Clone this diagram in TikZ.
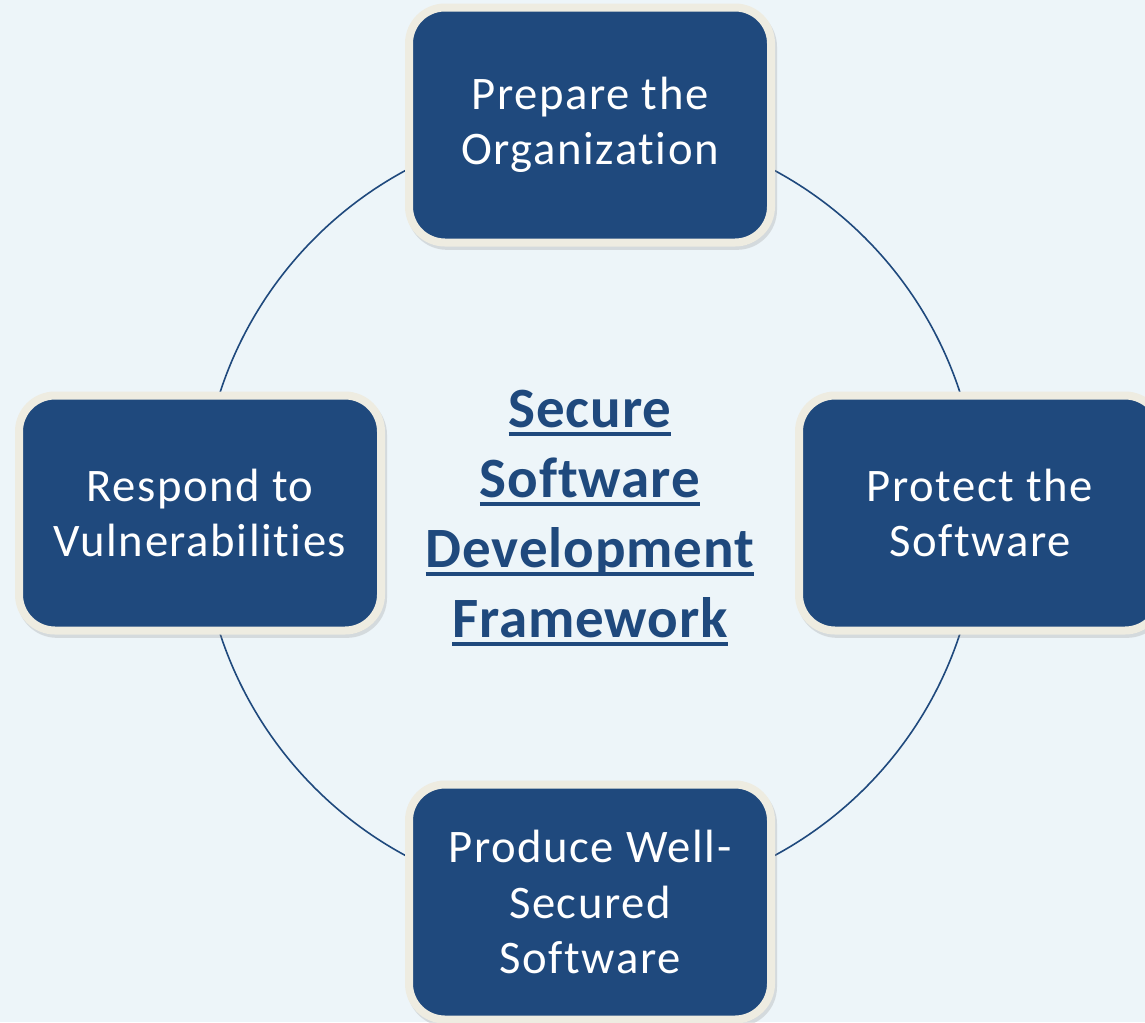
\documentclass[tikz,border=0pt]{standalone}
\usepackage{fontspec}
\setmainfont{Carlito}[Ligatures=NoCommon]
\newfontfamily\phasefont{Carlito}[Ligatures=NoCommon, LetterSpace=3.4]
\newfontfamily\titlefont{Carlito}[Ligatures=NoCommon, LetterSpace=1.6]
\usetikzlibrary{shadows}

\definecolor{pagebg}{HTML}{EDF5F9}
\definecolor{boxblue}{HTML}{1F497D}
\definecolor{rimcream}{HTML}{EEECE1}

% underline at a fixed distance below the baseline
\newcommand\ulword[1]{\leavevmode\setbox0\hbox{#1}\rlap{\rule[-6.6pt]{\wd0}{3pt}}\box0}

\begin{document}
\begin{tikzpicture}[x=0.75pt, y=-0.75pt,
  phase/.style={rounded corners=27pt, fill=boxblue, draw=rimcream, line width=6pt,
    minimum width=271.5pt, minimum height=176.25pt, inner sep=0pt,
    text=white, align=center, font=\phasefont\fontsize{35}{41.5}\selectfont,
    general shadow={fill=black!45, draw=black!45, line width=6pt, opacity=.25,
      shadow xshift=1.5pt, shadow yshift=-2.5pt}},
  ring/.style={draw=boxblue, line width=1.2pt},
  title/.style={text=boxblue, align=center, font=\titlefont\fontsize{42.75}{52.5}\selectfont\bfseries}]

  \useasboundingbox (0,0) rectangle (1145,1022);
  \clip (0,0) rectangle (1145,1022);
  \fill[pagebg] (0,0) rectangle (1145,1022);

  % ring through the four phases
  \coordinate (hub) at (590,513);
  \draw[ring] (hub) circle[radius=389];

  % four phases
  \node[phase] (prepare) at (590,125) {Prepare the\\Organization};
  \node[phase] (protect) at (980,513) {Protect the\\Software};
  \node[phase] (produce) at (590,902) {Produce Well-\\Secured\\Software};
  \node[phase] (respond) at (200,513) {Respond to\\Vulnerabilities};

  % central title
  \node[title] (ssdf) at (590,518)
    {\ulword{Secure}\\\ulword{Software}\\\ulword{Development}\\\ulword{Framework}};
\end{tikzpicture}
\end{document}
